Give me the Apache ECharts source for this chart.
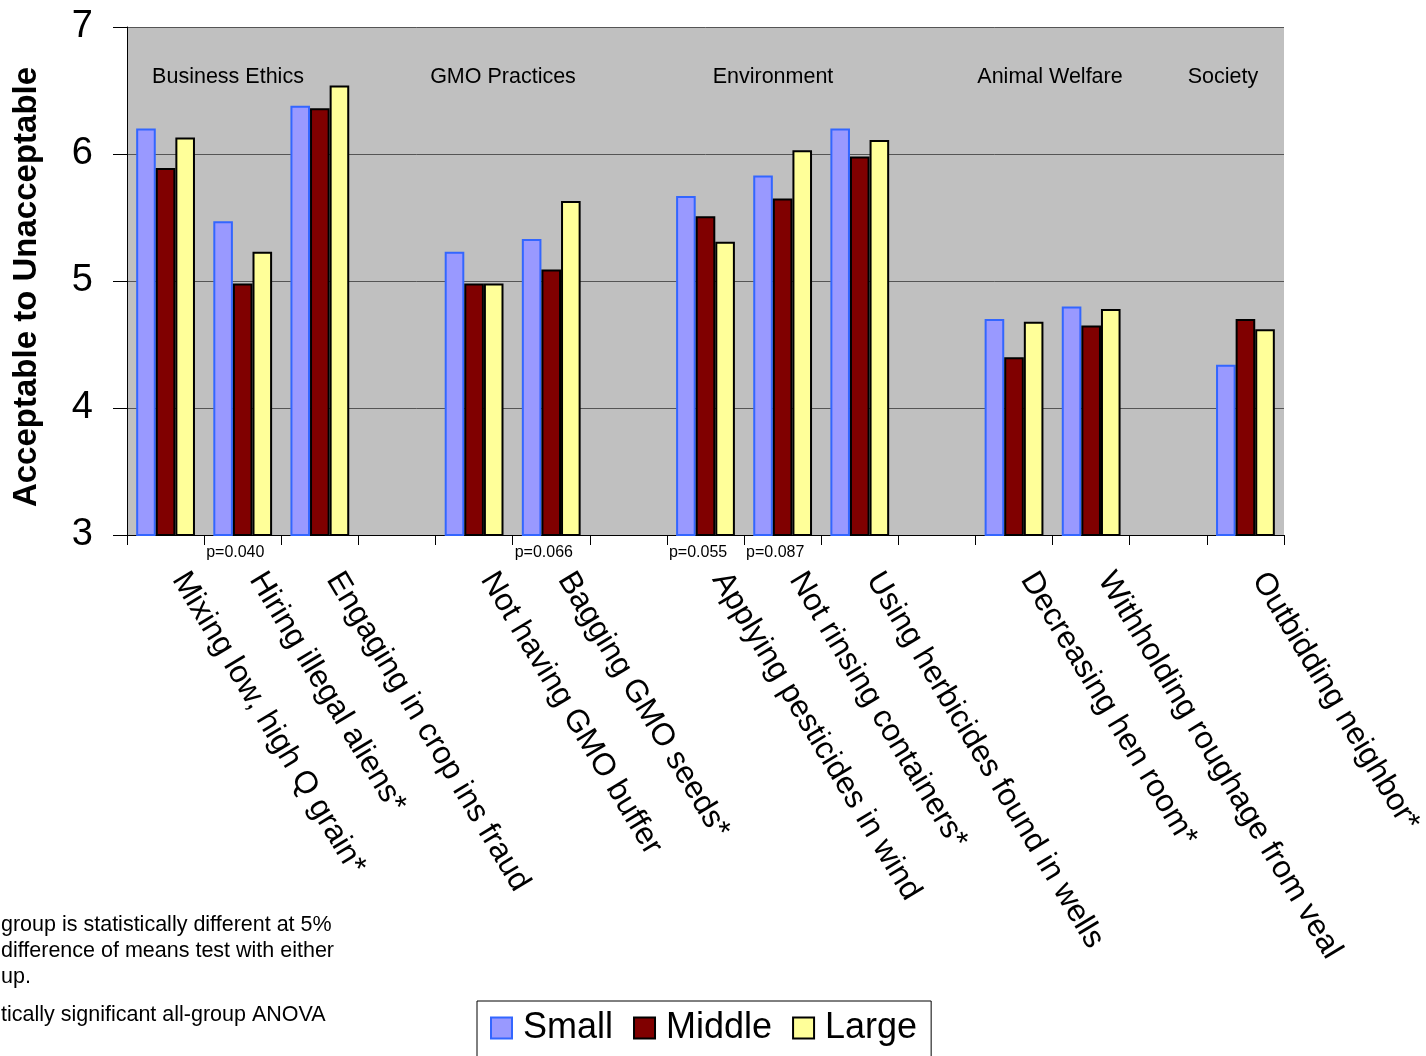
<!DOCTYPE html>
<html>
<head>
<meta charset="utf-8">
<script src="https://cdn.jsdelivr.net/npm/echarts@6/dist/echarts.min.js"></script>
<style>
html,body{margin:0;padding:0;background:#fff;}
#c{width:1426px;height:1056px;}
</style>
</head>
<body>
<div id="c"></div>
<script>
const categories = [
  'Mixing low, high Q grain*',
  'Hiring illegal aliens*',
  'Engaging in crop ins fraud',
  '',
  'Not having GMO buffer',
  'Bagging GMO seeds*',
  '',
  'Applying pesticides in wind',
  'Not rinsing containers*',
  'Using herbicides found in wells',
  '',
  'Decreasing hen room*',
  'Withholding roughage from veal',
  '',
  'Outbidding neighbor*'
];
const small  = [6.20, 5.47, 6.38, null, 5.23, 5.33, null, 5.67, 5.83, 6.20, null, 4.70, 4.80, null, 4.34];
const middle = [5.89, 4.98, 6.36, null, 4.98, 5.09, null, 5.51, 5.65, 5.98, null, 4.40, 4.65, null, 4.70];
const large  = [6.13, 5.23, 6.54, null, 4.98, 5.63, null, 5.31, 6.03, 6.11, null, 4.68, 4.78, null, 4.62];
const yTicks = [3, 4, 5, 6, 7];
const groupLabels = ['Business Ethics', 'GMO Practices', 'Environment', 'Animal Welfare', 'Society'];
const pLabels = [
  {cat: 1, text: 'p=0.040'},
  {cat: 5, text: 'p=0.066'},
  {cat: 7, text: 'p=0.055'},
  {cat: 8, text: 'p=0.087'}
];
const footnote = [
  'group is statistically different at 5%',
  'difference of means test with either',
  'up.',
  'tically significant all-group ANOVA'
];

const FONT = "'Liberation Sans', Arial, Helvetica, sans-serif";
const chart = echarts.init(document.getElementById('c'), null, {renderer: 'canvas'});

const option = {
  backgroundColor: '#ffffff',
  animation: false,
  textStyle: {fontFamily: FONT},
  grid: {
    left: 127, right: 142, top: 27, bottom: 521,
    containLabel: false,
    outerBoundsMode: 'none',
    show: true, backgroundColor: '#c0c0c0', borderWidth: 0
  },
  legend: {
    left: 477, top: 1001,
    padding: [9, 14, 20, 13],
    borderColor: '#000', borderWidth: 1,
    itemGap: 20, itemWidth: 21, itemHeight: 21,
    icon: 'rect',
    textStyle: {fontSize: 36, color: '#000', fontFamily: FONT, padding: [0, 0, 0, 6]},
    data: [
      {name: 'Small', itemStyle: {color: '#9999ff', borderColor: '#3366ff', borderWidth: 2}},
      {name: 'Middle', itemStyle: {color: '#800000', borderColor: '#000', borderWidth: 2}},
      {name: 'Large', itemStyle: {color: '#ffff99', borderColor: '#000', borderWidth: 2}}
    ]
  },
  xAxis: {
    type: 'category',
    data: categories,
    axisLine: {show: true, lineStyle: {color: '#000', width: 1}},
    axisTick: {show: true, alignWithLabel: false, interval: 0, length: 10, lineStyle: {color: '#000'}},
    axisLabel: {interval: 0, rotate: -59, margin: 48, fontSize: 31.5, color: '#000', fontFamily: FONT,
      verticalAlign: 'bottom'},
    splitLine: {show: false}
  },
  yAxis: {
    type: 'value',
    min: 3, max: 7, interval: 1,
    name: 'Acceptable to Unacceptable',
    nameLocation: 'middle',
    nameGap: 84,
    nameTextStyle: {fontSize: 33, fontWeight: 'bold', color: '#000', fontFamily: FONT, padding: [0, 12, 0, 0]},
    axisLine: {show: true, lineStyle: {color: '#000', width: 1}},
    axisTick: {show: true, inside: false, length: 14, lineStyle: {color: '#000'}},
    axisLabel: {
      margin: 34, fontSize: 38, color: '#000', fontFamily: FONT,
      formatter: v => (yTicks.indexOf(v) >= 0 ? String(v) : '')
    },
    splitLine: {show: true, lineStyle: {color: '#555', width: 1}}
  },
  series: [
    {name: 'Small', type: 'bar', data: small, barWidth: 19.6, barGap: '0%',
     itemStyle: {color: '#9999ff', borderColor: '#3366ff', borderWidth: 2}},
    {name: 'Middle', type: 'bar', data: middle, barWidth: 19.6, barGap: '0%',
     itemStyle: {color: '#800000', borderColor: '#000', borderWidth: 2}},
    {name: 'Large', type: 'bar', data: large, barWidth: 19.6, barGap: '0%',
     itemStyle: {color: '#ffff99', borderColor: '#000', borderWidth: 2}}
  ]
};
chart.setOption(option);

// Annotations
const groupCenters = [228, 503, 773, 1050, 1223];
const graphics = [];
groupLabels.forEach((t, i) => {
  graphics.push({
    type: 'text', x: groupCenters[i], y: 77, z: 10,
    style: {text: t, fill: '#000', align: 'center', verticalAlign: 'middle', font: '21.5px ' + FONT}
  });
});
const c0 = chart.convertToPixel({xAxisIndex: 0}, 0);
const c1 = chart.convertToPixel({xAxisIndex: 0}, 1);
const slotW = c1 - c0;
pLabels.forEach(p => {
  const cx = chart.convertToPixel({xAxisIndex: 0}, p.cat);
  graphics.push({
    type: 'text', x: cx - slotW / 2 + 2, y: 553, z: 10,
    style: {text: p.text, fill: '#000', align: 'left', verticalAlign: 'middle', font: '16px ' + FONT}
  });
});
const fnY = [925, 951, 977, 1015];
footnote.forEach((t, i) => {
  graphics.push({
    type: 'text', x: 1, y: fnY[i], z: 10,
    style: {text: t, fill: '#000', align: 'left', verticalAlign: 'middle', font: '21.5px ' + FONT}
  });
});
chart.setOption({graphic: graphics});
</script>
</body>
</html>
